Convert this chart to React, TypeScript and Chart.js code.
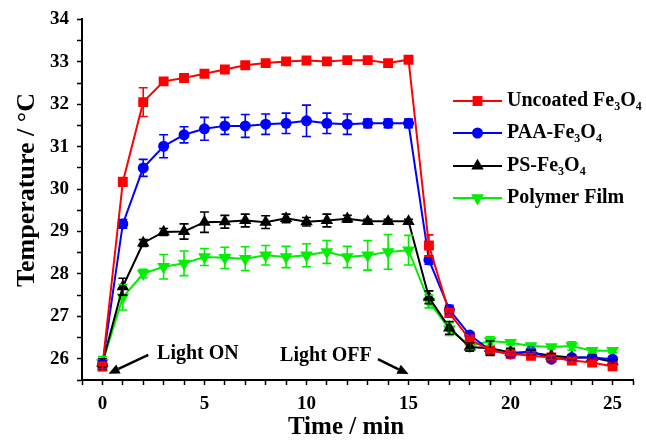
import React, { useEffect, useRef } from "react";
import { Chart, registerables } from "chart.js";

Chart.register(...registerables);

const times = [0, 1, 2, 3, 4, 5, 6, 7, 8, 9, 10, 11, 12, 13, 14, 15, 16, 17, 18, 19, 20, 21, 22, 23, 24, 25];

const uncoated = [25.82, 30.17, 32.05, 32.54, 32.62, 32.72, 32.82, 32.92, 32.97, 33.01, 33.03, 33.01, 33.04, 33.04, 32.97, 33.05, 28.67, 27.08, 26.46, 26.2, 26.12, 26.07, 26.03, 25.96, 25.91, 25.82];
const uncoatedErr = [0.1, 0.1, 0.34, 0.08, 0.05, 0.05, 0.05, 0.05, 0.05, 0.05, 0.05, 0.05, 0.05, 0.05, 0.05, 0.05, 0.25, 0.1, 0.05, 0.05, 0.05, 0.05, 0.05, 0.05, 0.05, 0.05];

const paa = [25.85, 29.18, 30.5, 31.01, 31.28, 31.42, 31.49, 31.49, 31.53, 31.55, 31.61, 31.55, 31.53, 31.55, 31.55, 31.55, 28.33, 27.16, 26.56, 26.2, 26.11, 26.18, 25.99, 26.03, 26.03, 25.99];
const paaErr = [0.1, 0.1, 0.2, 0.27, 0.19, 0.27, 0.2, 0.27, 0.24, 0.24, 0.37, 0.24, 0.24, 0.1, 0.1, 0.1, 0.1, 0.1, 0.05, 0.05, 0.05, 0.05, 0.05, 0.05, 0.05, 0.05];

const ps = [25.9, 27.7, 28.73, 28.99, 29.0, 29.22, 29.23, 29.26, 29.22, 29.31, 29.23, 29.26, 29.3, 29.24, 29.24, 29.24, 27.45, 26.73, 26.28, 26.25, 26.15, 26.15, 26.07, 26.03, 26.03, 25.93];
const psErr = [0.1, 0.2, 0.08, 0.08, 0.18, 0.24, 0.15, 0.15, 0.15, 0.1, 0.1, 0.15, 0.08, 0.05, 0.05, 0.05, 0.15, 0.15, 0.1, 0.17, 0.1, 0.05, 0.05, 0.05, 0.05, 0.05];

const film = [25.9, 27.45, 28.01, 28.17, 28.25, 28.4, 28.38, 28.36, 28.44, 28.4, 28.44, 28.52, 28.4, 28.44, 28.52, 28.56, 27.35, 26.7, 26.3, 26.42, 26.38, 26.3, 26.28, 26.3, 26.19, 26.19];
const filmErr = [0.15, 0.3, 0.1, 0.29, 0.29, 0.2, 0.25, 0.28, 0.23, 0.25, 0.27, 0.27, 0.25, 0.35, 0.41, 0.35, 0.15, 0.15, 0.1, 0.1, 0.05, 0.05, 0.05, 0.1, 0.05, 0.05];

const seriesNames = ["Uncoated Fe|3|O|4", "PAA-Fe|3|O|4", "PS-Fe|3|O|4", "Polymer Film"];
const seriesColors = ["#ff0000", "#0000ff", "#000000", "#00ee00"];
const seriesValues = [uncoated, paa, ps, film];
const seriesErrors = [uncoatedErr, paaErr, psErr, filmErr];
const seriesMarkers = ["rect", "circle", "triangle", "triangle"];
const seriesRotation = [0, 0, 0, 180];
const seriesRadius = [7, 5.5, 7.2, 7.4];

const yTitle = "Temperature / \u00B0C";
const xTitle = "Time / min";

const FONT = "'Liberation Serif', 'Times New Roman', serif";

function drawMarker(ctx: CanvasRenderingContext2D, style: string, rot: number, x: number, y: number, r: number) {
  ctx.beginPath();
  if (style === "rect") {
    const s = Math.SQRT1_2 * r;
    ctx.rect(x - s, y - s, 2 * s, 2 * s);
  } else if (style === "circle") {
    ctx.arc(x, y, r, 0, Math.PI * 2);
  } else {
    let a = (rot * Math.PI) / 180;
    ctx.moveTo(x + Math.sin(a) * r, y - Math.cos(a) * r);
    a += (2 * Math.PI) / 3;
    ctx.lineTo(x + Math.sin(a) * r, y - Math.cos(a) * r);
    a += (2 * Math.PI) / 3;
    ctx.lineTo(x + Math.sin(a) * r, y - Math.cos(a) * r);
    ctx.closePath();
  }
  ctx.fill();
}

function drawArrow(ctx: CanvasRenderingContext2D, x1: number, y1: number, x2: number, y2: number) {
  const ang = Math.atan2(y2 - y1, x2 - x1);
  const hl = 11;
  const hw = 5;
  const bx = x2 - Math.cos(ang) * hl;
  const by = y2 - Math.sin(ang) * hl;
  ctx.beginPath();
  ctx.moveTo(x1, y1);
  ctx.lineTo(bx, by);
  ctx.lineWidth = 2.5;
  ctx.strokeStyle = "#000";
  ctx.stroke();
  ctx.beginPath();
  ctx.moveTo(x2, y2);
  ctx.lineTo(bx + Math.sin(ang) * hw, by - Math.cos(ang) * hw);
  ctx.lineTo(bx - Math.sin(ang) * hw, by + Math.cos(ang) * hw);
  ctx.closePath();
  ctx.fillStyle = "#000";
  ctx.fill();
}

const errorBarPlugin = {
  id: "errorBars",
  afterDatasetsDraw(chart: any) {
    const ctx = chart.ctx;
    const xs = chart.scales.x;
    const ys = chart.scales.y;
    ctx.save();
    for (let i = seriesValues.length - 1; i >= 0; i--) {
      ctx.strokeStyle = seriesColors[i];
      ctx.lineWidth = 1.6;
      const vals = seriesValues[i];
      const errs = seriesErrors[i];
      for (let j = 0; j < vals.length; j++) {
        const x = xs.getPixelForValue(times[j]);
        const yt = ys.getPixelForValue(vals[j] + errs[j]);
        const yb = ys.getPixelForValue(vals[j] - errs[j]);
        const cw = 4.5;
        ctx.beginPath();
        ctx.moveTo(x, yt);
        ctx.lineTo(x, yb);
        ctx.moveTo(x - cw, yt);
        ctx.lineTo(x + cw, yt);
        ctx.moveTo(x - cw, yb);
        ctx.lineTo(x + cw, yb);
        ctx.stroke();
      }
    }
    ctx.restore();
  },
};

function drawSubText(ctx: CanvasRenderingContext2D, spec: string, x: number, y: number, size: number) {
  const parts = spec.split("|");
  let cx = x;
  parts.forEach((p, k) => {
    const sub = k % 2 === 1;
    ctx.font = `bold ${sub ? Math.round(size * 0.62) : size}px ${FONT}`;
    ctx.fillText(p, cx, sub ? y + size * 0.32 : y);
    cx += ctx.measureText(p).width;
  });
}

const decorPlugin = {
  id: "decor",
  afterDraw(chart: any) {
    const ctx = chart.ctx;
    const xs = chart.scales.x;
    const ys = chart.scales.y;
    ctx.save();
    ctx.fillStyle = "#000";
    ctx.textBaseline = "middle";

    // axis titles
    ctx.textAlign = "center";
    ctx.font = `bold 25px ${FONT}`;
    ctx.fillText(xTitle, 346, 428);
    ctx.save();
    ctx.translate(27, 190);
    ctx.rotate(-Math.PI / 2);
    ctx.font = `bold 26px ${FONT}`;
    ctx.fillText(yTitle, 0, 0);
    ctx.restore();

    // legend
    ctx.textAlign = "left";
    const rowY = [101, 133, 166, 198];
    for (let i = 0; i < seriesNames.length; i++) {
      const y = rowY[i];
      ctx.strokeStyle = seriesColors[i];
      ctx.lineWidth = 2;
      ctx.beginPath();
      ctx.moveTo(453, y);
      ctx.lineTo(502, y);
      ctx.stroke();
      ctx.fillStyle = seriesColors[i];
      drawMarker(ctx, seriesMarkers[i], seriesRotation[i], 477.5, y, seriesRadius[i]);
      ctx.fillStyle = "#000";
      drawSubText(ctx, seriesNames[i], 507, y, 20);
    }

    // annotations
    ctx.font = `bold 20px ${FONT}`;
    ctx.textAlign = "left";
    ctx.fillText("Light ON", xs.getPixelForValue(2.68), ys.getPixelForValue(26.12));
    ctx.textAlign = "right";
    ctx.fillText("Light OFF", xs.getPixelForValue(13.2), ys.getPixelForValue(26.07));
    drawArrow(ctx, xs.getPixelForValue(2.25), ys.getPixelForValue(26.09), xs.getPixelForValue(0.3), ys.getPixelForValue(25.65));
    drawArrow(ctx, xs.getPixelForValue(13.5), ys.getPixelForValue(25.99), xs.getPixelForValue(15.0), ys.getPixelForValue(25.64));
    ctx.restore();
  },
};

export default function App() {
  const ref = useRef<HTMLCanvasElement | null>(null);
  useEffect(() => {
    if (!ref.current) return;
    const datasets = seriesValues.map((vals, i) => ({
      label: seriesNames[i].replace(/\|/g, ""),
      data: vals.map((v, j) => ({ x: times[j], y: v })),
      borderColor: seriesColors[i],
      backgroundColor: seriesColors[i],
      borderWidth: 2,
      pointStyle: seriesMarkers[i] as any,
      pointRotation: seriesRotation[i],
      pointRadius: seriesRadius[i],
      pointBorderWidth: 0,
      pointBackgroundColor: seriesColors[i],
      pointBorderColor: seriesColors[i],
      tension: 0,
    }));
    const chart = new Chart(ref.current, {
      type: "line",
      data: { datasets },
      options: {
        responsive: false,
        animation: false,
        devicePixelRatio: 1,
        layout: { padding: { left: 0, top: 15, right: 13, bottom: 0 } },
        plugins: { legend: { display: false }, tooltip: { enabled: false } },
        scales: {
          x: {
            type: "linear",
            min: -1,
            max: 26,
            afterFit: (s: any) => {
              s.height = 63;
            },
            border: { display: true, color: "#000", width: 2 },
            grid: { drawOnChartArea: false, drawTicks: true, tickLength: 5, tickColor: "#000", tickWidth: 1.5 },
            ticks: {
              stepSize: 1,
              autoSkip: false,
              maxRotation: 0,
              color: "#000",
              padding: 8,
              font: { family: FONT, size: 19, weight: "bold" },
              callback: (v: any) => (Number(v) >= 0 && Number(v) % 5 === 0 ? String(v) : ""),
            },
          },
          y: {
            type: "linear",
            min: 25.5,
            max: 34,
            afterFit: (s: any) => {
              s.width = 82;
            },
            border: { display: true, color: "#000", width: 2 },
            grid: { drawOnChartArea: false, drawTicks: true, tickLength: 5, tickColor: "#000", tickWidth: 1.5 },
            ticks: {
              stepSize: 0.5,
              autoSkip: false,
              color: "#000",
              padding: 8,
              font: { family: FONT, size: 19, weight: "bold" },
              callback: (v: any) => (Number.isInteger(Number(v)) ? String(v) : ""),
            },
          },
        },
      },
      plugins: [errorBarPlugin, decorPlugin],
    });
    return () => chart.destroy();
  }, []);
  return (
    <div style={{ position: "absolute", left: 0, top: 0, width: 646, height: 443, background: "#fff" }}>
      <canvas ref={ref} width={646} height={443} style={{ display: "block" }} />
    </div>
  );
}
